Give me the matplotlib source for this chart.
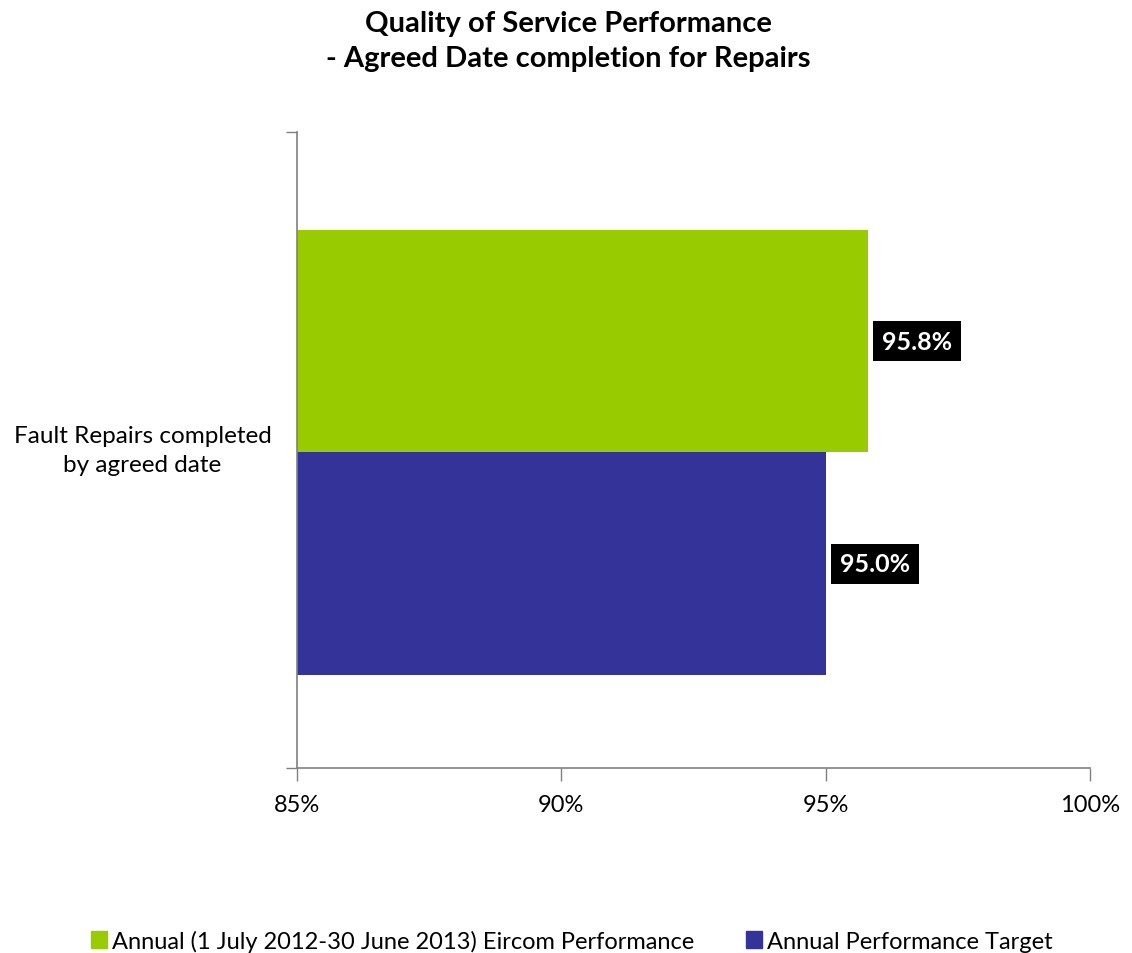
import matplotlib.pyplot as plt
import matplotlib.ticker as mtick
from matplotlib.patches import Patch

plt.rcParams['font.family'] = ['Lato', 'DejaVu Sans']

category = "Fault Repairs completed\nby agreed date"
series_names = ["Annual (1 July 2012-30 June 2013) Eircom Performance",
                "Annual Performance Target"]
values = [95.8, 95.0]
colors = ["#99CC00", "#333399"]
xticks = [85, 90, 95, 100]

fig = plt.figure(figsize=(11.32, 9.54), dpi=100)
ax = fig.add_axes([0.2624, 0.194, 0.7005, 0.6666])

bar_h = 0.3504
offsets = [bar_h / 2 - 0.004, -bar_h / 2 - 0.004]
for name, val, col, off in zip(series_names, values, colors, offsets):
    ax.barh(off, val - 85, left=85, height=bar_h, color=col, label=name)
    ax.text(val + 0.27, off, f"{val:.1f}%", ha="left", va="center", color="white",
            fontsize=18, fontweight="bold",
            bbox=dict(boxstyle="square,pad=0.35", fc="black", ec="none"))

ax.set_xlim(85, 100)
ax.set_ylim(-0.5, 0.5)
ax.set_xticks(xticks)
ax.xaxis.set_major_formatter(mtick.PercentFormatter(decimals=0))
ax.tick_params(axis="x", labelsize=17, length=9, color="#808080", pad=10, width=1)
ax.set_yticks([-0.5, 0.5])
ax.set_yticklabels([])
ax.tick_params(axis="y", length=8, color="#808080", width=1)
ax.text(-0.195, 0.5, category, transform=ax.transAxes, ha="center", va="center",
        fontsize=17.5, linespacing=1.5)

for s in ["top", "right"]:
    ax.spines[s].set_visible(False)
for s in ["left", "bottom"]:
    ax.spines[s].set_color("#808080")
    ax.spines[s].set_linewidth(1.2)

fig.text(0.502, 0.988, "Quality of Service Performance\n- Agreed Date completion for Repairs",
         ha="center", va="top", fontsize=21, fontweight="bold", linespacing=1.4)

handles = [Patch(color=c) for c in colors]
fig.legend(handles, series_names, loc="lower center", bbox_to_anchor=(0.505, -0.021),
           ncol=2, frameon=False, fontsize=17, handlelength=0.7, handleheight=0.7,
           handletextpad=0.2, columnspacing=2.2)

fig.savefig("out.png", dpi=100)
